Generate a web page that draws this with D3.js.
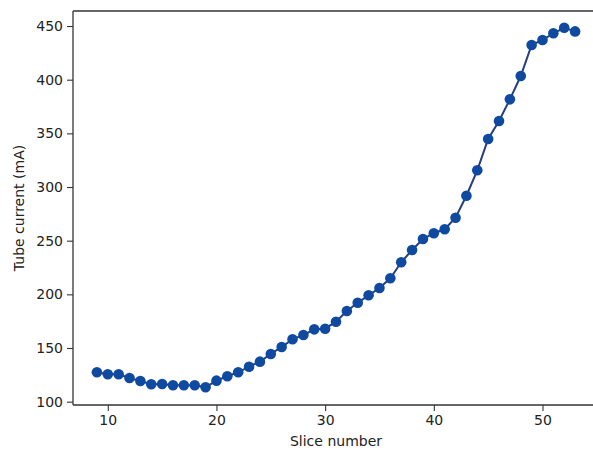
<!DOCTYPE html>
<html>
<head>
<meta charset="utf-8">
<script src="https://cdn.jsdelivr.net/npm/d3@7"></script>
<style>
html,body{margin:0;padding:0;background:#fff;}
svg{display:block;}
text{font-family:"DejaVu Sans",sans-serif;fill:#222;}
</style>
</head>
<body>
<svg id="chart" width="593" height="451"></svg>
<script>
const slices = [9,10,11,12,13,14,15,16,17,18,19,20,21,22,23,24,25,26,27,28,29,30,31,32,33,34,35,36,37,38,39,40,41,42,43,44,45,46,47,48,49,50,51,52,53];
const current = [127.4,125.5,125.5,122.1,119.3,116.2,116.5,115.3,115.3,115.3,113.4,119.6,123.7,127.4,132.6,137.3,144.4,151.0,158.1,162.1,167.4,168.0,174.5,184.5,192.2,199.1,205.9,215.0,229.9,241.3,251.6,256.9,260.6,271.4,291.9,315.6,344.7,361.5,381.7,403.4,432.3,437.0,443.2,448.4,445.0];
const xTicks = [10,20,30,40,50];
const yTicks = [100,150,200,250,300,350,400,450];
const xLabel = "Slice number";
const yLabel = "Tube current (mA)";

const svg = d3.select("#chart");
const mLeft = 73, mTop = 11, mBottom = 405, mRight = 599;

const x = d3.scaleLinear().domain([6.8, 55.2]).range([mLeft, mRight]);
const y = d3.scaleLinear().domain([96.9, 464]).range([mBottom, mTop]);

const axisColor = "#333";
const fs = 14;

// x axis
const gx = svg.append("g").attr("transform", `translate(0,${mBottom})`)
  .call(d3.axisBottom(x).tickValues(xTicks).tickSize(6).tickPadding(4).tickFormat(d3.format("d")));
gx.select(".domain").remove();
gx.selectAll(".tick line").attr("stroke", axisColor).attr("stroke-width", 1.1);
gx.selectAll(".tick text").attr("font-size", fs).attr("font-family", "DejaVu Sans").attr("fill", "#222");

// y axis
const gy = svg.append("g").attr("transform", `translate(${mLeft},0)`)
  .call(d3.axisLeft(y).tickValues(yTicks).tickSize(6).tickPadding(4).tickFormat(d3.format("d")));
gy.select(".domain").remove();
gy.selectAll(".tick line").attr("stroke", axisColor).attr("stroke-width", 1.1);
gy.selectAll(".tick text").attr("font-size", fs).attr("font-family", "DejaVu Sans").attr("fill", "#222");

// spines
svg.append("line").attr("x1", mLeft).attr("x2", mLeft).attr("y1", mTop).attr("y2", mBottom)
  .attr("stroke", axisColor).attr("stroke-width", 1.3);
svg.append("line").attr("x1", mLeft).attr("x2", 593).attr("y1", mBottom).attr("y2", mBottom)
  .attr("stroke", axisColor).attr("stroke-width", 1.3);
svg.append("line").attr("x1", mLeft).attr("x2", 593).attr("y1", mTop).attr("y2", mTop)
  .attr("stroke", axisColor).attr("stroke-width", 1.3);

// line
const data = slices.map((s, i) => ({s, v: current[i]}));
svg.append("path").datum(data)
  .attr("fill", "none").attr("stroke", "#243f7e").attr("stroke-width", 2)
  .attr("d", d3.line().x(d => x(d.s)).y(d => y(d.v)));

svg.append("g").selectAll("circle").data(data).join("circle")
  .attr("cx", d => x(d.s)).attr("cy", d => y(d.v)).attr("r", 5.3)
  .attr("fill", "#0f4aa0");

// labels
svg.append("text").attr("x", (mLeft + mRight) / 2).attr("y", 446)
  .attr("text-anchor", "middle").attr("font-size", fs).text(xLabel);
svg.append("text").attr("transform", `translate(24,${(mTop + mBottom) / 2}) rotate(-90)`)
  .attr("text-anchor", "middle").attr("font-size", fs).text(yLabel);
</script>
</body>
</html>
